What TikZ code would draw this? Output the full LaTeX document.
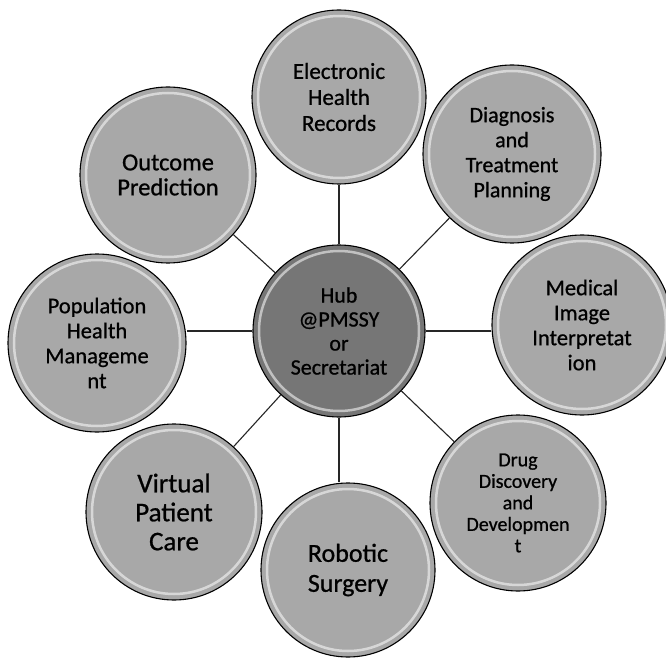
\documentclass[tikz,border=0pt]{standalone}
\usepackage{fontspec}
\setmainfont{Carlito}
\newfontfamily\bubfont[FakeBold=0.8]{Carlito}
\definecolor{bubblegray}{RGB}{168,168,168}
\definecolor{hubgray}{RGB}{118,118,118}
\begin{document}
\begin{tikzpicture}[x=1pt,y=-1pt,
  bubble/.style={circle, draw=black, line width=1.1pt, fill=bubblegray,
    inner sep=0pt, minimum size=176pt, align=center, text=black,
    path picture={\draw[white, opacity=0.55, line width=2.5pt]
      (path picture bounding box.center) circle (#1);}},
  bubble/.default=81pt,
  link/.style={draw=black!85, line width=1.1pt}]
\fill[white] (0,0) rectangle (666,660);
\useasboundingbox (0,0) rectangle (666,660);

\node[bubble=80pt, fill=hubgray, minimum size=172pt,
  font=\bubfont\fontsize{22}{24}\selectfont] (hub) at (339,331)
  {Hub\\@PMSSY\\or\\Secretariat};

\node[bubble=81pt, minimum size=174pt, font=\bubfont\fontsize{23}{26}\selectfont]
  (ehr) at (339,97) {Electronic\\Health\\Records};
\node[bubble=83pt, minimum size=178pt, font=\bubfont\fontsize{22}{25}\selectfont]
  (diag) at (512,154) {Diagnosis\\and\\Treatment\\Planning};
\node[bubble=84pt, minimum size=180pt, font=\bubfont\fontsize{22.5}{25}\selectfont]
  (med) at (582,325) {Medical\\Image\\Interpretat\\ion};
\node[bubble=82pt, minimum size=176pt, font=\bubfont\fontsize{20}{21.5}\selectfont]
  (drug) at (518,503) {Drug\\Discovery\\and\\Developmen\\t};
\node[bubble=81pt, minimum size=174pt, font=\bubfont\fontsize{26}{30}\selectfont]
  (robo) at (348,570) {Robotic\\Surgery};
\node[bubble=82pt, minimum size=176pt, font=\bubfont\fontsize{27}{29}\selectfont]
  (virt) at (174,512) {Virtual\\Patient\\Care};
\node[bubble=83pt, minimum size=178pt, font=\bubfont\fontsize{22.5}{25}\selectfont]
  (pop) at (97,343) {Population\\Health\\Manageme\\nt};
\node[bubble=82pt, minimum size=176pt, font=\bubfont\fontsize{24.5}{25}\selectfont]
  (out) at (168,175) {Outcome\\Prediction};

\draw[link] (hub.north) -- (hub.north |- ehr.south);
\draw[link] (hub.south) -- (hub.south |- robo.north);
\draw[link] (hub.west) -- (hub.west -| pop.east);
\draw[link] (hub.east) -- (hub.east -| med.west);
\draw[link] (hub) -- (diag);
\draw[link] (hub) -- (drug);
\draw[link] (hub) -- (virt);
\draw[link] (hub) -- (out);
\end{tikzpicture}
\end{document}
